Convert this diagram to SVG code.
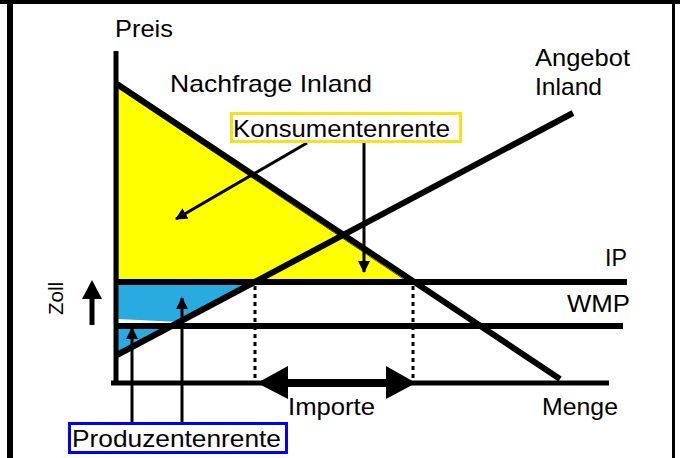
<svg xmlns="http://www.w3.org/2000/svg" width="680" height="458" viewBox="0 0 680 458">
<defs>
<style>
text{font-family:"Liberation Sans",Arial,sans-serif;font-size:24px;fill:#000}
.thick{stroke:#000;stroke-width:6;fill:none}
.conn{stroke:#000;stroke-width:3;fill:none}
.dot{stroke:#000;stroke-width:3;stroke-dasharray:4 4;fill:none}
</style>
<marker id="ah" viewBox="0 0 12 12" refX="11" refY="6" markerWidth="12" markerHeight="12" markerUnits="userSpaceOnUse" orient="auto">
<path d="M0,0 L12,6 L0,12 Z" fill="#000"/>
</marker>
</defs>
<rect width="680" height="458" fill="#fff"/>
<rect x="0" y="0" width="680" height="4" fill="#000"/>
<rect x="7" y="0" width="6" height="458" fill="#000"/>
<rect x="672" y="0" width="3" height="458" fill="#000"/>

<g id="areas">
<polygon points="118,88 118,280 405,280" fill="#ffff00" stroke="#555" stroke-width="1"/>
<polygon points="118,285 249,285 179,322 118,319" fill="#29abe2"/>
<polygon points="118,329 166,329 118,354" fill="#29abe2"/>
</g>

<g id="axes">
<line x1="116" y1="51" x2="116" y2="385" stroke="#000" stroke-width="5"/>
<line x1="111" y1="383" x2="609" y2="383" stroke="#000" stroke-width="5"/>
</g>

<g id="curves">
<line id="nachfrage" x1="117" y1="84" x2="560" y2="379" class="thick"/>
<line id="angebot" x1="117" y1="355" x2="573" y2="113" class="thick"/>
<line id="ip" x1="116" y1="282" x2="627" y2="282" class="thick"/>
<line id="wmp" x1="116" y1="326" x2="623" y2="326" class="thick"/>
</g>

<g id="connectors">
<line x1="255" y1="286" x2="255" y2="378" class="dot"/>
<line x1="413" y1="286" x2="413" y2="378" class="dot"/>
<line x1="280" y1="383" x2="392" y2="383" stroke="#000" stroke-width="8"/>
<polygon points="257,383 288,366 288,399" fill="#000"/>
<polygon points="416,383 386,366 386,399" fill="#000"/>
<line x1="92" y1="325" x2="92" y2="296" stroke="#000" stroke-width="5"/>
<polygon points="92,280 82,299 102,299" fill="#000"/>
<line x1="307" y1="143" x2="176" y2="219" class="conn" marker-end="url(#ah)"/>
<line x1="364" y1="143" x2="364" y2="272" class="conn" marker-end="url(#ah)"/>
<line x1="132" y1="422" x2="132" y2="328" class="conn" marker-end="url(#ah)"/>
<line x1="182" y1="422" x2="182" y2="298" class="conn" marker-end="url(#ah)"/>
</g>

<g id="labels">
<text x="115" y="37" textLength="58" lengthAdjust="spacingAndGlyphs">Preis</text>
<text x="170" y="92" textLength="202" lengthAdjust="spacingAndGlyphs">Nachfrage Inland</text>
<text x="535" y="66" textLength="95" lengthAdjust="spacingAndGlyphs">Angebot</text>
<text x="535" y="95" textLength="67" lengthAdjust="spacingAndGlyphs">Inland</text>
<text x="605" y="266" textLength="22" lengthAdjust="spacingAndGlyphs">IP</text>
<text x="567" y="312" textLength="63" lengthAdjust="spacingAndGlyphs">WMP</text>
<text x="288" y="415" textLength="87" lengthAdjust="spacingAndGlyphs">Importe</text>
<text x="542" y="415" textLength="76" lengthAdjust="spacingAndGlyphs">Menge</text>
<text transform="translate(63,315) rotate(-90)" style="font-size:20px" textLength="33" lengthAdjust="spacingAndGlyphs">Zoll</text>
</g>

<g id="konsumentenrente">
<rect x="231.5" y="113.5" width="229" height="28" fill="#fff" stroke="#f5e31a" stroke-width="3"/>
<text x="233" y="137" textLength="217" lengthAdjust="spacingAndGlyphs">Konsumentenrente</text>
</g>

<g id="produzentenrente">
<rect x="69.5" y="423.5" width="217" height="29" fill="#fff" stroke="#0000ff" stroke-width="3"/>
<text x="72" y="447" textLength="209" lengthAdjust="spacingAndGlyphs">Produzentenrente</text>
</g>
</svg>
